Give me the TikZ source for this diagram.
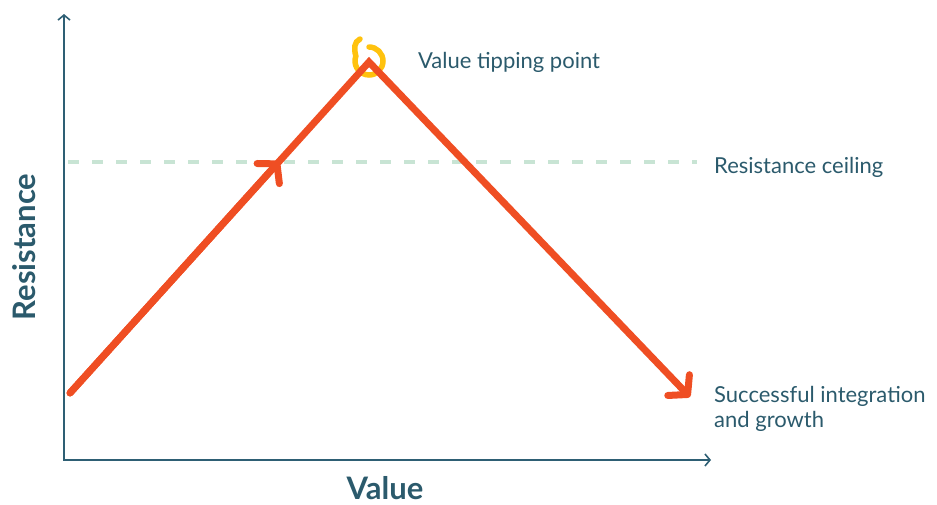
\documentclass[tikz,border=0pt]{standalone}
\usepackage{fontspec}
\setmainfont{Lato}
\usetikzlibrary{arrows.meta,calc}
\definecolor{axisblue}{HTML}{2E5F74}
\definecolor{textblue}{HTML}{2B5A6C}
\definecolor{trendred}{HTML}{EF4E23}
\definecolor{tipyellow}{HTML}{FFC20E}
\definecolor{ceilgreen}{HTML}{C8E4D4}
\tikzset{
    axistip/.tip = {Straight Barb[length=5pt, width=12pt]},
    trendtip/.tip = {Straight Barb[length=13pt, width=30pt, round]},
    axis-line/.style = {draw=axisblue, line width=1.6pt, {axistip}-{axistip}},
    trend-line/.style = {draw=trendred, line width=7pt, line cap=round, line join=miter, -{trendtip}},
    ceiling-line/.style = {draw=ceilgreen, line width=4.5pt, dash pattern=on 11pt off 13pt},
    tip-loop/.style = {draw=tipyellow, line width=5.5pt, line cap=round},
    chart-label/.style = {text=textblue, font=\fontsize{22}{25}\selectfont, anchor=west, inner sep=0pt, align=left},
    axis-title/.style = {text=textblue, font=\fontsize{31}{34}\selectfont\bfseries, inner sep=0pt},
}

\begin{document}
\begin{tikzpicture}[x=1pt, y=-1pt]
\useasboundingbox (0,0) rectangle (937,504);

% axes
\coordinate (origin) at (64,460);
\coordinate (y-end) at (64,14);
\coordinate (x-end) at (711,460);
\draw[axis-line] (y-end) -- (origin) -- (x-end);
\node[axis-title, rotate=90] (y-title) at (24,247) {Resistance};
\node[axis-title, anchor=base] (x-title) at (385,499) {Value};

% resistance ceiling
\coordinate (ceil-start) at (68,162);
\coordinate (ceil-end) at (697,162);
\draw[ceiling-line] (ceil-start) -- (ceil-end);
\node[chart-label] (ceil-label) at (714,167) {Resistance ceiling};

% tipping point marker
\coordinate (peak) at (369,62);
\coordinate (loop-centre) at (369,61);
\draw[tip-loop] ($(loop-centre)+(0,-14)$) arc[start angle=270, end angle=560, radius=14]
    .. controls +(-2,-8) and +(-6,3) .. (360,39);
\node[chart-label] (tip-label) at (418,62) {Value tipping point};

% value curve
\coordinate (start) at (70,393);
\coordinate (finish) at (690,397);
\draw[trend-line] (start) -- ($(start)!0.7!(peak)$);
\draw[trend-line] (start) -- (peak) -- (finish);
\node[chart-label] (end-label) at (714,409) {Successful integration\\and growth};
\end{tikzpicture}
\end{document}
